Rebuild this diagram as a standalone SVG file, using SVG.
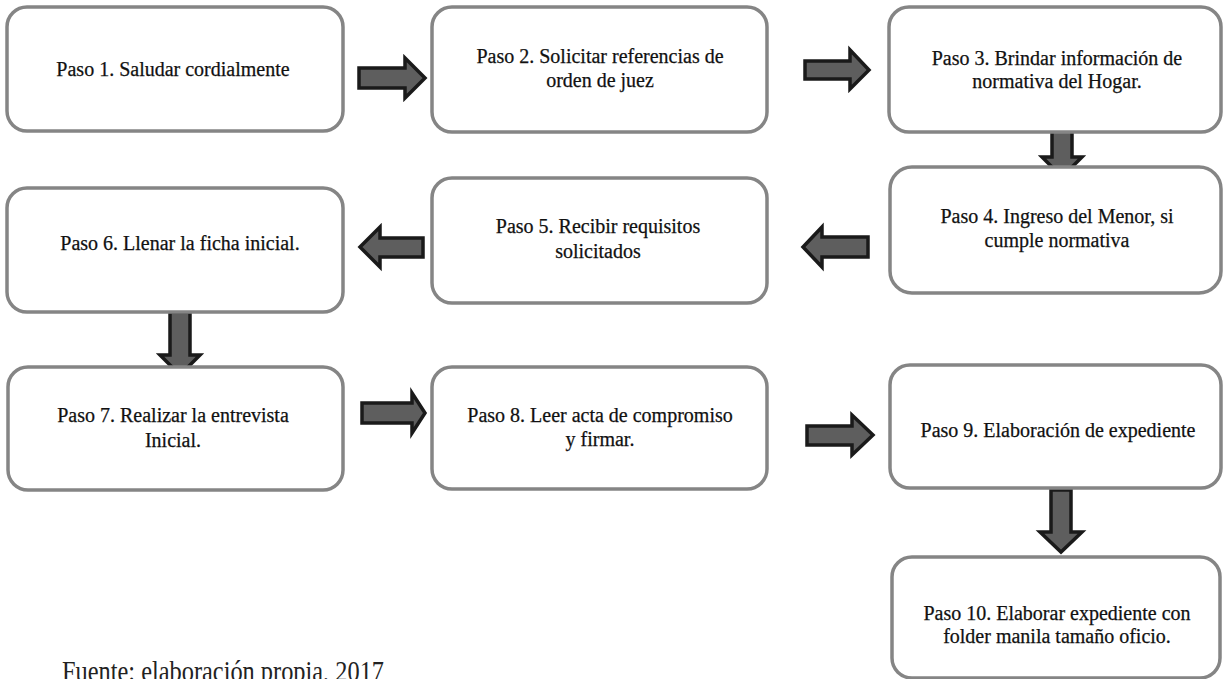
<svg xmlns="http://www.w3.org/2000/svg" width="1225" height="679" viewBox="0 0 1225 679">
<style>
.box{fill:#fff;stroke:#858585;stroke-width:3.5}
.t{font-family:"Liberation Serif","Times New Roman",serif;font-size:20px;fill:#111;stroke:#111;stroke-width:0.25;text-anchor:middle}
.arr{fill:#5e5e5e;stroke:#1a1a1a;stroke-width:3.5;stroke-linejoin:miter}
.foot{font-family:"Liberation Serif","Times New Roman",serif;font-size:30px;fill:#222}
</style>
<rect width="1225" height="679" fill="#fff"/>
<g id="connectors">
<polygon class="arr" points="359,68 405,68 405,58 425,78 405,98 405,88 359,88"/>
<polygon class="arr" points="805,61 850,61 850,50 869,70 850,89 850,79 805,79"/>
<polygon class="arr" points="1052,113 1072,113 1072,157 1082,157 1062,177 1042,157 1052,157"/>
<polygon class="arr" points="868,237 822,237 822,227 803,247 822,267 822,257 868,257"/>
<polygon class="arr" points="423,238 380,238 380,227 360,247 380,267 380,257 423,257"/>
<polygon class="arr" points="170,312 190,312 190,355 200,355 180,375 160,355 170,355"/>
<polygon class="arr" points="362,403 412,403 412,393 425,413 412,433 412,423 362,423"/>
<polygon class="arr" points="807,426 852,426 852,415 873,435 852,455 852,445 807,445"/>
<polygon class="arr" points="1051,490 1071,490 1071,532 1082,532 1061,552 1040,532 1051,532"/>
</g>
<g id="node1"><rect class="box" x="7" y="7" width="336" height="124" rx="20"/><text class="t" x="173" y="76">Paso 1. Saludar cordialmente</text></g>
<g id="node2"><rect class="box" x="432" y="7" width="335" height="125" rx="20"/><text class="t" x="600" y="63">Paso 2. Solicitar referencias de</text><text class="t" x="600" y="87">orden de juez</text></g>
<g id="node3"><rect class="box" x="889" y="7" width="332" height="125" rx="20"/><text class="t" x="1057" y="65">Paso 3. Brindar información de</text><text class="t" x="1057" y="88">normativa del Hogar.</text></g>
<g id="node4"><rect class="box" x="890" y="167" width="331" height="126" rx="22"/><text class="t" x="1057" y="223">Paso 4. Ingreso del Menor, si</text><text class="t" x="1057" y="247">cumple normativa</text></g>
<g id="node5"><rect class="box" x="432" y="178" width="335" height="125" rx="20"/><text class="t" x="598" y="233">Paso 5. Recibir requisitos</text><text class="t" x="598" y="258">solicitados</text></g>
<g id="node6"><rect class="box" x="7" y="188" width="336" height="124" rx="20"/><text class="t" x="180" y="250">Paso 6. Llenar la ficha inicial.</text></g>
<g id="node7"><rect class="box" x="8" y="367" width="335" height="123" rx="20"/><text class="t" x="173" y="422">Paso 7. Realizar la entrevista</text><text class="t" x="173" y="447">Inicial.</text></g>
<g id="node8"><rect class="box" x="432" y="367" width="335" height="122" rx="20"/><text class="t" x="600" y="422">Paso 8. Leer acta de compromiso</text><text class="t" x="600" y="446">y firmar.</text></g>
<g id="node9"><rect class="box" x="890" y="365" width="331" height="123" rx="20"/><text class="t" x="1058" y="437">Paso 9. Elaboración de expediente</text></g>
<g id="node10"><rect class="box" x="892" y="557" width="328" height="121" rx="20"/><text class="t" x="1057" y="620">Paso 10. Elaborar expediente con</text><text class="t" x="1057" y="643">folder manila tamaño oficio.</text></g>
<text class="foot" x="62" y="681" textLength="322" lengthAdjust="spacingAndGlyphs">Fuente: elaboración propia, 2017</text>
</svg>
